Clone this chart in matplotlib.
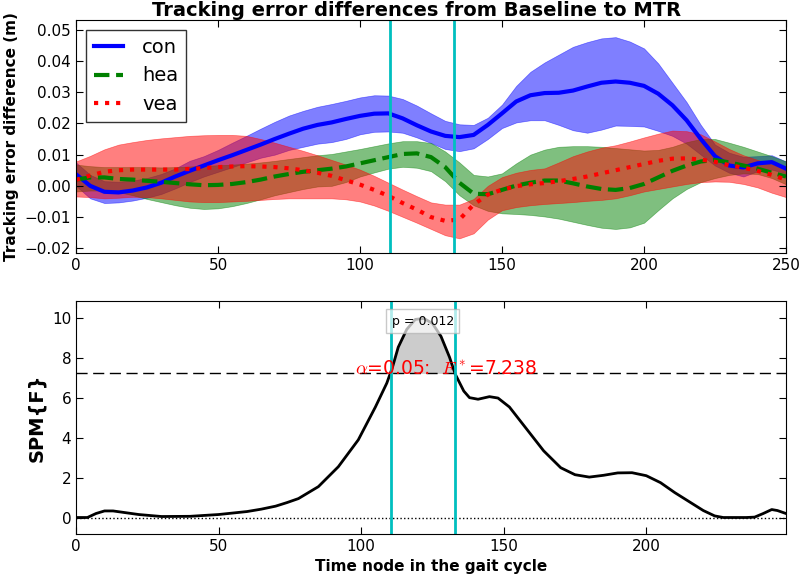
import numpy as np
import matplotlib
matplotlib.use('Agg')
import matplotlib.pyplot as plt

plt.rcParams['mathtext.fontset'] = 'cm'
plt.rcParams['xtick.direction'] = 'in'
plt.rcParams['ytick.direction'] = 'in'
plt.rcParams['xtick.top'] = True
plt.rcParams['ytick.right'] = True
plt.rcParams['xtick.major.size'] = 5
plt.rcParams['ytick.major.size'] = 5

nodes = list(range(0, 251, 5))

con_mean = [0.0037, 0.0000, -0.0019, -0.0021, -0.0015, -0.0005, 0.0010, 0.0030, 0.0048, 0.0065,
            0.0082, 0.0098, 0.0115, 0.0132, 0.0150, 0.0167, 0.0183, 0.0195, 0.0203, 0.0214,
            0.0224, 0.0231, 0.0232, 0.0216, 0.0194, 0.0174, 0.0160, 0.0156, 0.0163, 0.0195,
            0.0232, 0.0270, 0.0290, 0.0297, 0.0298, 0.0305, 0.0318, 0.0330, 0.0334, 0.0330,
            0.0320, 0.0295, 0.0258, 0.0210, 0.0150, 0.0095, 0.0065, 0.0059, 0.0072, 0.0076, 0.0055]
con_upper = [0.0075, 0.0035, 0.0015, 0.0013, 0.0017, 0.0025, 0.0038, 0.0056, 0.0080, 0.0095,
             0.0115, 0.0138, 0.0160, 0.0183, 0.0205, 0.0225, 0.0240, 0.0253, 0.0262, 0.0272,
             0.0283, 0.0290, 0.0289, 0.0278, 0.0257, 0.0232, 0.0208, 0.0197, 0.0195, 0.0218,
             0.0260, 0.0320, 0.0365, 0.0395, 0.0420, 0.0445, 0.0460, 0.0472, 0.0476, 0.0462,
             0.0440, 0.0392, 0.0330, 0.0268, 0.0195, 0.0132, 0.0106, 0.0093, 0.0095, 0.0098, 0.0078]
con_lower = [0.0000, -0.0040, -0.0055, -0.0053, -0.0047, -0.0038, -0.0026, -0.0008, 0.0012, 0.0030,
             0.0045, 0.0060, 0.0075, 0.0090, 0.0100, 0.0115, 0.0125, 0.0135, 0.0140, 0.0150,
             0.0165, 0.0173, 0.0174, 0.0170, 0.0155, 0.0137, 0.0118, 0.0111, 0.0120, 0.0150,
             0.0185, 0.0203, 0.0210, 0.0210, 0.0195, 0.0178, 0.0170, 0.0180, 0.0193, 0.0192,
             0.0190, 0.0176, 0.0160, 0.0135, 0.0100, 0.0065, 0.0042, 0.0030, 0.0047, 0.0052, 0.0040]

hea_mean = [0.0020, 0.0027, 0.0027, 0.0022, 0.0020, 0.0016, 0.0013, 0.0009, 0.0005, 0.0002,
            0.0003, 0.0006, 0.0012, 0.0020, 0.0030, 0.0038, 0.0045, 0.0050, 0.0055, 0.0062,
            0.0072, 0.0082, 0.0092, 0.0102, 0.0104, 0.0092, 0.0060, 0.0010, -0.0025, -0.0027,
            -0.0013, 0.0001, 0.0010, 0.0017, 0.0017, 0.0008, -0.0002, -0.0010, -0.0013, -0.0007,
            0.0006, 0.0027, 0.0048, 0.0065, 0.0078, 0.0083, 0.0075, 0.0065, 0.0055, 0.0042, 0.0030]
hea_upper = [0.0068, 0.0063, 0.0060, 0.0060, 0.0060, 0.0060, 0.0059, 0.0060, 0.0062, 0.0064,
             0.0066, 0.0068, 0.0071, 0.0075, 0.0080, 0.0086, 0.0092, 0.0098, 0.0102, 0.0110,
             0.0118, 0.0127, 0.0136, 0.0143, 0.0143, 0.0137, 0.0110, 0.0075, 0.0035, 0.0030,
             0.0040, 0.0072, 0.0100, 0.0116, 0.0125, 0.0127, 0.0127, 0.0125, 0.0121, 0.0117,
             0.0113, 0.0115, 0.0125, 0.0140, 0.0150, 0.0150, 0.0138, 0.0125, 0.0110, 0.0095, 0.0078]
hea_lower = [-0.0018, -0.0015, -0.0015, -0.0020, -0.0030, -0.0042, -0.0052, -0.0062, -0.0070, -0.0074,
             -0.0072, -0.0065, -0.0055, -0.0043, -0.0030, -0.0020, -0.0010, -0.0002, 0.0000, 0.0012,
             0.0030, 0.0043, 0.0055, 0.0061, 0.0058, 0.0047, 0.0015, -0.0030, -0.0062, -0.0080,
             -0.0088, -0.0090, -0.0093, -0.0098, -0.0105, -0.0115, -0.0125, -0.0134, -0.0138, -0.0133,
             -0.0118, -0.0078, -0.0040, -0.0010, 0.0012, 0.0025, 0.0035, 0.0040, 0.0038, 0.0025, 0.0005]

vea_mean = [0.0019, 0.0033, 0.0045, 0.0050, 0.0052, 0.0052, 0.0052, 0.0052, 0.0054, 0.0057,
            0.0060, 0.0062, 0.0063, 0.0062, 0.0060, 0.0056, 0.0050, 0.0042, 0.0032, 0.0018,
            0.0004, -0.0013, -0.0032, -0.0055, -0.0076, -0.0100, -0.0112, -0.0108, -0.0060, -0.0028,
            -0.0012, -0.0001, 0.0005, 0.0009, 0.0015, 0.0022, 0.0030, 0.0040, 0.0050, 0.0060,
            0.0070, 0.0080, 0.0087, 0.0088, 0.0084, 0.0077, 0.0066, 0.0058, 0.0048, 0.0035, 0.0020]
vea_upper = [0.0078, 0.0096, 0.0117, 0.0132, 0.0140, 0.0147, 0.0152, 0.0156, 0.0160, 0.0162,
             0.0163, 0.0163, 0.0160, 0.0150, 0.0138, 0.0125, 0.0112, 0.0098, 0.0083, 0.0068,
             0.0052, 0.0032, 0.0010, -0.0012, -0.0033, -0.0053, -0.0060, -0.0060, -0.0042, 0.0000,
             0.0028, 0.0042, 0.0051, 0.0056, 0.0075, 0.0095, 0.0110, 0.0122, 0.0130, 0.0142,
             0.0155, 0.0167, 0.0177, 0.0175, 0.0165, 0.0142, 0.0118, 0.0098, 0.0083, 0.0068, 0.0060]
vea_lower = [-0.0034, -0.0036, -0.0040, -0.0038, -0.0035, -0.0036, -0.0040, -0.0045, -0.0050, -0.0052,
             -0.0052, -0.0050, -0.0048, -0.0045, -0.0042, -0.0040, -0.0040, -0.0040, -0.0040, -0.0043,
             -0.0050, -0.0063, -0.0080, -0.0099, -0.0118, -0.0138, -0.0158, -0.0168, -0.0152, -0.0108,
             -0.0078, -0.0068, -0.0062, -0.0058, -0.0055, -0.0052, -0.0048, -0.0045, -0.0040, -0.0030,
             -0.0018, -0.0010, -0.0002, 0.0006, 0.0012, 0.0014, 0.0013, 0.0006, -0.0005, -0.0022, -0.0036]

# SPM{F} trajectory
f_nodes = [0, 4, 7, 10, 13, 17, 22, 30, 40, 50, 60, 65, 70, 74, 78, 85, 92, 99, 105, 109,
           111, 113, 116, 119, 122, 125, 128, 131, 133, 136, 138, 141, 145, 148, 152, 158, 164, 170, 175, 180,
           185, 190, 195, 200, 205, 210, 215, 220, 224, 227, 235, 238, 241, 244, 246, 249]
f_values = [0.0, 0.0, 0.2, 0.33, 0.33, 0.25, 0.15, 0.05, 0.06, 0.15, 0.3, 0.42, 0.57, 0.75, 0.95, 1.55, 2.55, 3.9, 5.55, 6.75,
            7.55, 8.55, 9.45, 9.95, 10.0, 9.75, 9.1, 8.05, 7.2, 6.35, 6.02, 5.94, 6.07, 6.0, 5.55, 4.45, 3.35, 2.5, 2.15, 2.03,
            2.12, 2.24, 2.25, 2.1, 1.75, 1.25, 0.8, 0.35, 0.08, 0.0, 0.0, 0.02, 0.2, 0.4, 0.35, 0.2]
f_thresh = 7.238
p_value = 0.012
cluster_bounds = [110.5, 133.0]

fig = plt.figure(figsize=(8, 5.79), dpi=100)
ax1 = fig.add_axes([0.095, 0.563, 0.8875, 0.402])
ax2 = fig.add_axes([0.095, 0.078, 0.8875, 0.402])

ax1.fill_between(nodes, con_lower, con_upper, color='b', alpha=0.5, lw=0.5)
ax1.fill_between(nodes, hea_lower, hea_upper, color='g', alpha=0.5, lw=0.5)
ax1.fill_between(nodes, vea_lower, vea_upper, color='r', alpha=0.5, lw=0.5)
ax1.plot(nodes, con_mean, 'b-', lw=3, label='con')
ax1.plot(nodes, hea_mean, 'g--', lw=3, label='hea')
ax1.plot(nodes, vea_mean, 'r:', lw=3, label='vea')
for b in cluster_bounds:
    ax1.axvline(b, color='c', lw=2)
ax1.set_xlim(0, 250)
ax1.set_ylim(-0.0215, 0.053)
ax1.set_yticks(np.arange(-0.02, 0.051, 0.01))
ax1.set_xticks([0, 50, 100, 150, 200, 250])
ax1.tick_params(labelsize=11)
ax1.set_title('Tracking error differences from Baseline to MTR', fontsize=14, fontweight='bold', pad=3, x=0.48)
ax1.set_ylabel('Tracking error difference (m)', fontsize=11, fontweight='bold')
leg = ax1.legend(loc='upper left', fontsize=14, fancybox=False, handlelength=1.5, handletextpad=1.0)
leg.get_frame().set_edgecolor('k')

ax2.plot(f_nodes, f_values, 'k-', lw=2)
fv = np.array(f_values)
ax2.fill_between(f_nodes, f_thresh, fv, where=fv >= f_thresh, interpolate=True, color='0.8', lw=0)
ax2.axhline(f_thresh, color='k', ls='--', lw=1, dashes=(8, 4))
ax2.axhline(0, color='k', ls=':', lw=1)
for b in cluster_bounds:
    ax2.axvline(b, color='c', lw=2)
ax2.text(130, 7.5, r'$\alpha$=0.05:  $F^*$=%.3f' % f_thresh, color='r', fontsize=13.5, ha='center', va='center')
ax2.text(121.6, 9.85, 'p = %.3f' % p_value, fontsize=9, ha='center', va='center',
         bbox=dict(facecolor='w', edgecolor='0.7', alpha=0.7))
ax2.set_xlim(0, 249)
ax2.set_ylim(-0.82, 10.87)
ax2.set_xticks([0, 50, 100, 150, 200])
ax2.set_yticks([0, 2, 4, 6, 8, 10])
ax2.tick_params(labelsize=11)
ax2.set_ylabel('SPM{F}', fontsize=14, fontweight='bold')
ax2.set_xlabel('Time node in the gait cycle', fontsize=11, fontweight='bold')

fig.savefig('out.png', dpi=100)
